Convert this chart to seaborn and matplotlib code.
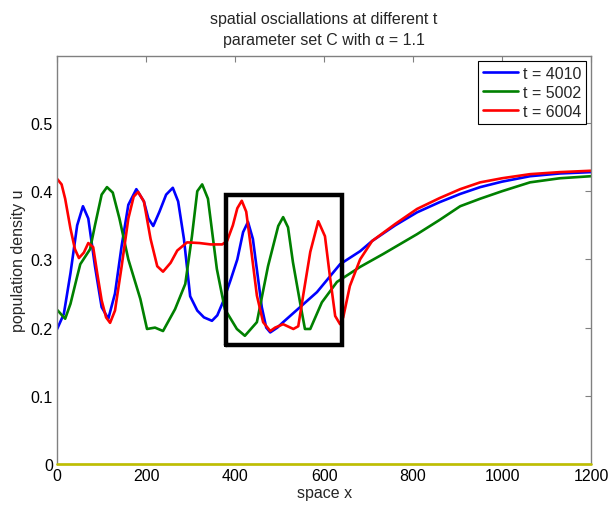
import pandas as pd
import matplotlib
matplotlib.use("Agg")
import matplotlib.pyplot as plt
import seaborn as sns

# values
x_4010 = [0, 15, 30, 45, 58, 70, 85, 100, 115, 130, 145, 160, 178, 195, 205, 216, 230, 245, 260, 272,
          285, 299, 315, 330, 348, 360, 373, 390, 405, 418, 429, 440, 450, 460, 470, 479, 495, 508, 546,
          584, 636, 681, 708, 760, 809, 860, 906, 951, 1000, 1063, 1130, 1200]
u_4010 = [0.198, 0.22, 0.28, 0.35, 0.378, 0.36, 0.29, 0.23, 0.213, 0.25, 0.32, 0.38, 0.403, 0.385, 0.36,
          0.349, 0.37, 0.395, 0.405, 0.385, 0.33, 0.246, 0.225, 0.215, 0.21, 0.218, 0.238, 0.27, 0.3,
          0.34, 0.355, 0.33, 0.28, 0.23, 0.2, 0.193, 0.2, 0.208, 0.23, 0.252, 0.293, 0.312, 0.327, 0.35,
          0.369, 0.384, 0.396, 0.406, 0.414, 0.422, 0.426, 0.428]

x_5002 = [0, 18, 30, 45, 52, 74, 85, 100, 112, 125, 140, 160, 187, 202, 220, 238, 265, 288, 303, 315,
          326, 339, 359, 377, 404, 422, 449, 474, 497, 508, 519, 530, 546, 557, 569, 595, 629, 681, 733,
          809, 860, 906, 951, 1000, 1063, 1130, 1200]
u_5002 = [0.226, 0.213, 0.235, 0.275, 0.293, 0.315, 0.35, 0.395, 0.406, 0.398, 0.36, 0.3, 0.242, 0.198,
          0.2, 0.195, 0.227, 0.264, 0.334, 0.4, 0.41, 0.389, 0.286, 0.227, 0.198, 0.188, 0.208, 0.29,
          0.349, 0.362, 0.347, 0.296, 0.237, 0.198, 0.198, 0.237, 0.267, 0.289, 0.308, 0.337, 0.358,
          0.378, 0.389, 0.4, 0.413, 0.419, 0.422]

x_6004 = [0, 10, 18, 30, 40, 49, 60, 70, 81, 90, 100, 110, 119, 130, 145, 160, 172, 182, 195, 210, 225,
          238, 255, 270, 292, 320, 345, 371, 382, 395, 405, 415, 425, 435, 449, 463, 479, 490, 508, 531,
          542, 553, 569, 587, 602, 613, 625, 636, 643, 658, 681, 708, 760, 809, 860, 906, 951, 1000,
          1063, 1130, 1200]
u_6004 = [0.418, 0.41, 0.389, 0.345, 0.315, 0.302, 0.31, 0.324, 0.318, 0.28, 0.24, 0.215, 0.207, 0.225,
          0.29, 0.36, 0.392, 0.399, 0.385, 0.33, 0.29, 0.282, 0.295, 0.313, 0.325, 0.324, 0.322, 0.322,
          0.327, 0.35, 0.375, 0.386, 0.37, 0.32, 0.247, 0.208, 0.195, 0.2, 0.205, 0.198, 0.202, 0.247,
          0.311, 0.356, 0.334, 0.276, 0.217, 0.205, 0.215, 0.261, 0.3, 0.327, 0.352, 0.374, 0.39, 0.403,
          0.413, 0.419, 0.425, 0.428, 0.43]

zero_x = [0, 1200]
zero_u = [0, 0]

# box around the middle region
box_x = [380, 640]
box_u = [0.175, 0.395]

labels = ['t = 4010', 't = 5002', 't = 6004']
colors = ['#0000ff', '#008000', '#ff0000']

df = pd.concat([
    pd.DataFrame({'x': x_4010, 'u': u_4010, 't': labels[0]}),
    pd.DataFrame({'x': x_5002, 'u': u_5002, 't': labels[1]}),
    pd.DataFrame({'x': x_6004, 'u': u_6004, 't': labels[2]}),
], ignore_index=True)

sns.set_style('white')
plt.rcParams['font.family'] = ['Liberation Sans', 'DejaVu Sans']

fig = plt.figure(figsize=(6.08, 5.06), dpi=100)
ax = fig.add_axes([0.094, 0.081, 0.878, 0.806])

sns.lineplot(data=df, x='x', y='u', hue='t', palette=colors, sort=False,
             estimator=None, linewidth=1.9, ax=ax)
sns.lineplot(x=zero_x, y=zero_u, color='#bfbf00', linewidth=1.9, ax=ax, legend=False)
ax.lines[-1].set_clip_on(False)
ax.lines[-1].set_zorder(5)

# black rectangle
ax.plot([box_x[0], box_x[1], box_x[1], box_x[0], box_x[0]],
        [box_u[0], box_u[0], box_u[1], box_u[1], box_u[0]],
        color='black', linewidth=3.2, solid_joinstyle='miter')

ax.set_xlim(0, 1200)
ax.set_ylim(0, 0.598)
ax.set_xticks(range(0, 1201, 200))
ax.set_yticks([0, 0.1, 0.2, 0.3, 0.4, 0.5])
ax.set_yticklabels(['0', '0.1', '0.2', '0.3', '0.4', '0.5'])
ax.tick_params(direction='in', top=True, right=True, length=4, width=0.8,
               colors='#808080', labelcolor='black', labelsize=11.5, pad=3)
for s in ax.spines.values():
    s.set_color('#808080')
    s.set_linewidth(1.0)

ax.set_xlabel('space x', fontsize=11.5, labelpad=1)
ax.set_ylabel('population density u', fontsize=11.5, labelpad=3)
ax.set_title('spatial osciallations at different t\nparameter set C with α = 1.1',
             fontsize=11.5, pad=9, linespacing=1.45)

leg = ax.legend(loc='upper right', fontsize=11.5, frameon=True, fancybox=False,
                edgecolor='black', framealpha=1, borderaxespad=0.3, handlelength=2.2,
                handletextpad=0.3, labelspacing=0.25, borderpad=0.3)
leg.get_frame().set_linewidth(0.8)

fig.savefig('out.png', dpi=100)
